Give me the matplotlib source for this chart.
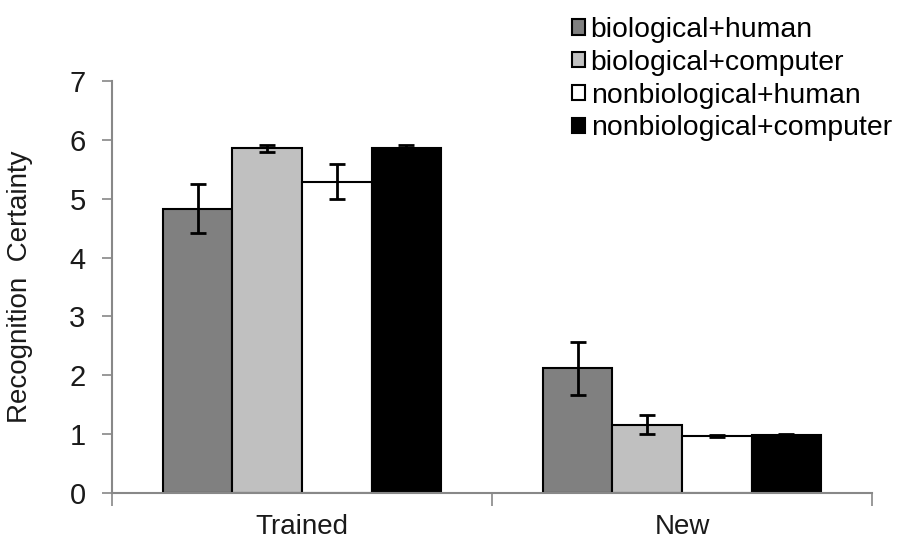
import matplotlib
matplotlib.use("Agg")
import matplotlib.pyplot as plt
import numpy as np
from matplotlib.patches import Patch

categories = ["Trained", "New"]
series = ["biological+human", "biological+computer", "nonbiological+human", "nonbiological+computer"]
values = {
    "biological+human": [4.83, 2.12],
    "biological+computer": [5.86, 1.16],
    "nonbiological+human": [5.29, 0.97],
    "nonbiological+computer": [5.86, 0.98],
}
errors = {
    "biological+human": [0.42, 0.45],
    "biological+computer": [0.06, 0.16],
    "nonbiological+human": [0.30, 0.02],
    "nonbiological+computer": [0.05, 0.03],
}
colors = ["#808080", "#c0c0c0", "#ffffff", "#000000"]
yticks = [0, 1, 2, 3, 4, 5, 6, 7]

plt.rcParams['font.family'] = ['Liberation Sans', 'DejaVu Sans']
fig = plt.figure(figsize=(9.13, 5.42), dpi=100)
ax = fig.add_axes([112/913, 49/542, (872-112)/913, (493-81)/542])

x = np.arange(len(categories))
w = 0.183
for i, s in enumerate(series):
    pos = x + (i - 1.5) * w
    ax.bar(pos, values[s], width=w, color=colors[i], edgecolor="black", linewidth=1.5, zorder=2)
    ax.errorbar(pos, values[s], yerr=errors[s], fmt="none", ecolor="black",
                elinewidth=2, capsize=5.5, capthick=2, zorder=3)

ax.set_xlim(-0.5, 1.5)
ax.set_ylim(0, 7)
ax.set_yticks(yticks)
ax.set_yticklabels([str(t) for t in yticks], fontsize=21, color="#1a1a1a")
ax.set_xticks(x)
ax.set_xticklabels(categories, fontsize=20, color="#1a1a1a")
ax.tick_params(axis="x", length=0, pad=15)
ax.set_xticks([-0.5, 0.5, 1.5], minor=True)
ax.tick_params(axis="x", which="minor", length=9, width=1.2, color="#888888", direction="out")
ax.tick_params(axis="y", length=7, width=1.2, color="#888888", direction="out", pad=12)
for sp in ["top", "right"]:
    ax.spines[sp].set_visible(False)
for sp in ["left", "bottom"]:
    ax.spines[sp].set_color("#888888")
    ax.spines[sp].set_linewidth(1.5)
ax.set_ylabel("Recognition  Certainty", fontsize=20, color="#1a1a1a", labelpad=26)

handles = [Patch(facecolor=c, edgecolor="black", linewidth=1.5) for c in colors]
fig.legend(handles, series, loc="upper left", bbox_to_anchor=(572/913, 1 - 17/542),
           frameon=False, fontsize=20.4, handlelength=0.46, handleheight=0.46,
           handletextpad=0.2, labelspacing=0.24, borderpad=0, borderaxespad=0)

fig.savefig("out.png", dpi=100)
